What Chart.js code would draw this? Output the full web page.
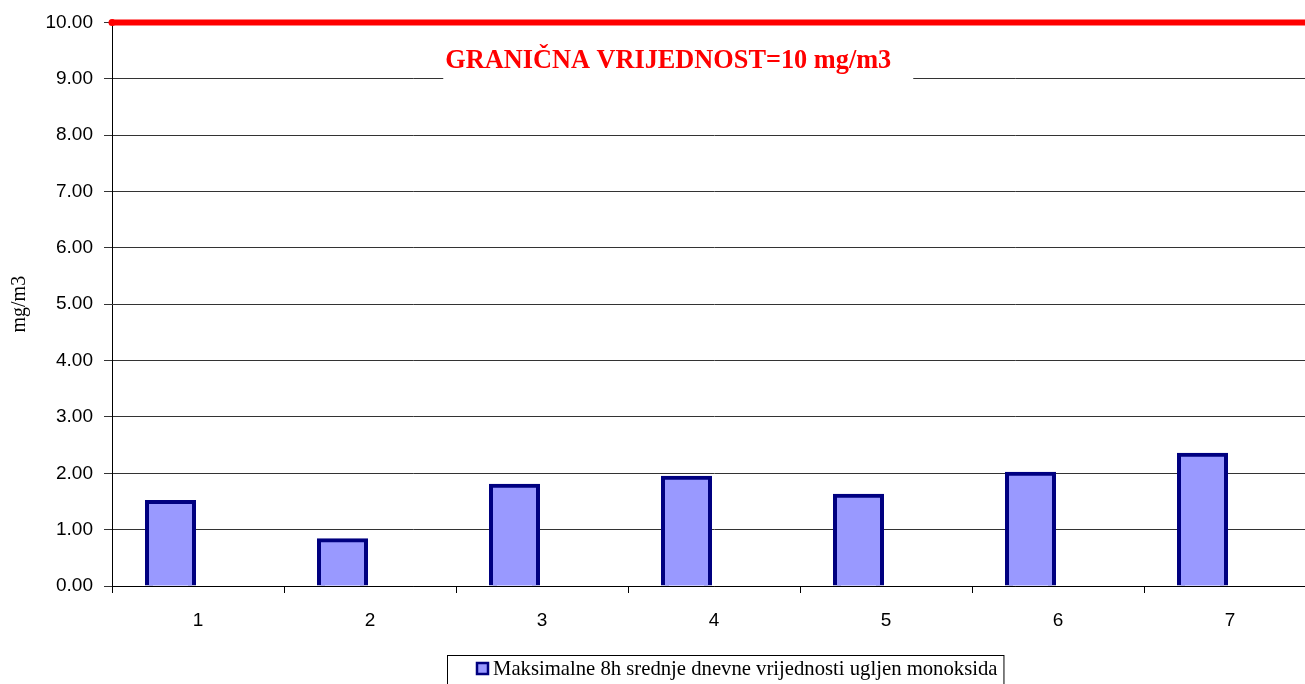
<!DOCTYPE html>
<html>
<head>
<meta charset="utf-8">
<script src="https://cdn.jsdelivr.net/npm/chart.js@4.4.1/dist/chart.umd.min.js"></script>
<style>
    html, body { margin: 0; padding: 0; background: #fff; overflow: hidden; }
    #wrap { width: 1320px; height: 684px; }
</style>
</head>
<body>
<div id="wrap"><canvas id="coChart" width="1320" height="684"></canvas></div>
<script>
const categories = ["1", "2", "3", "4", "5", "6", "7"];
const maxValues = [1.49, 0.81, 1.78, 1.92, 1.60, 1.99, 2.33];
const limitValue = 10;
const yTickLabels = ["0.00", "1.00", "2.00", "3.00", "4.00", "5.00", "6.00", "7.00", "8.00", "9.00", "10.00"];
const seriesLabel = "Maksimalne 8h srednje dnevne vrijednosti ugljen monoksida";
const limitLabel = "GRANIČNA VRIJEDNOST=10 mg/m3";
const yTitle = "mg/m3";

const FILL = "#9999ff";
const EDGE = "#000080";

/* red note with white box over the 9.00 grid line */
const limitNote = {
    id: "limitNote",
    afterDatasetsDraw(chart) {
        const { ctx, scales } = chart;
        const x = scales.xl.getPixelForValue(0.462);
        const y = scales.y.getPixelForValue(9.19);
        ctx.save();
        ctx.font = 'bold 26.3px "Liberation Serif"';
        const w = ctx.measureText(limitLabel).width;
        ctx.fillStyle = "#fff";
        ctx.fillRect(x - w / 2 - 2, y - 24, w + 24, 36);
        ctx.fillStyle = "#ff0000";
        ctx.textAlign = "center";
        ctx.textBaseline = "alphabetic";
        ctx.fillText(limitLabel, x, y);
        ctx.restore();
    }
};

/* boxed legend like the spreadsheet one */
const boxLegend = {
    id: "boxLegend",
    afterDraw(chart) {
        const { ctx, chartArea } = chart;
        const left = chartArea.left + 335;
        const top = 655;
        ctx.save();
        ctx.font = '20.7px "Liberation Serif"';
        const tw = ctx.measureText(seriesLabel).width;
        const width = 29 + 17 + tw + 6;
        ctx.fillStyle = "#fff";
        ctx.fillRect(left, top, width, 40);
        ctx.strokeStyle = "#000";
        ctx.lineWidth = 1;
        ctx.strokeRect(left + 0.5, top + 0.5, width, 40);
        ctx.fillStyle = FILL;
        ctx.fillRect(left + 29, top + 7, 13, 13);
        ctx.strokeStyle = EDGE;
        ctx.lineWidth = 2.5;
        ctx.strokeRect(left + 30, top + 8, 11, 11);
        ctx.fillStyle = "#000";
        ctx.textBaseline = "alphabetic";
        ctx.fillText(seriesLabel, left + 46, top + 20);
        ctx.restore();
    }
};

new Chart(document.getElementById("coChart"), {
    data: {
        labels: categories,
        datasets: [
            {
                type: "bar",
                label: seriesLabel,
                data: maxValues,
                backgroundColor: FILL,
                borderColor: EDGE,
                borderWidth: 4,
                inflateAmount: 2,
                barThickness: 55,
                maxBarThickness: 47,
                order: 2
            },
            {
                // empty second slot, keeps the bars left of the category centre
                type: "bar",
                label: "",
                data: categories.map(() => null),
                barThickness: 55,
                maxBarThickness: 47
            },
            {
                type: "line",
                label: limitLabel,
                xAxisID: "xl",
                data: [{ x: 0, y: limitValue }, { x: 1, y: limitValue }],
                borderColor: "#ff0000",
                backgroundColor: "#ff0000",
                borderWidth: 6,
                pointRadius: [3.5, 0],
                pointBorderWidth: 0,
                clip: false,
                order: 0
            }
        ]
    },
    options: {
        responsive: false,
        animation: false,
        layout: { padding: { top: 22, right: 2, left: 0, bottom: 0 } },
        plugins: {
            legend: { display: false },
            tooltip: { enabled: false }
        },
        scales: {
            x: {
                type: "category",
                offset: true,
                grid: {
                    offset: true,
                    drawOnChartArea: false,
                    drawTicks: true,
                    tickLength: 7,
                    color: "#000"
                },
                border: { display: true, color: "#000", width: 1 },
                ticks: {
                    color: "#000",
                    padding: 16,
                    font: { family: '"Liberation Sans"', size: 19 }
                },
                afterFit(scale) { scale.height = 98; }
            },
            xl: {
                type: "linear",
                display: false,
                min: 0,
                max: 1
            },
            y: {
                min: 0,
                max: 10,
                ticks: {
                    stepSize: 1,
                    color: "#000",
                    padding: 11,
                    font: { family: '"Liberation Sans"', size: 19 },
                    callback: (v, i) => yTickLabels[i]
                },
                grid: {
                    color: "#333",
                    lineWidth: 1,
                    tickLength: 8,
                    drawTicks: true
                },
                border: { display: true, color: "#000", width: 1 },
                title: {
                    display: true,
                    text: yTitle,
                    color: "#000",
                    padding: { top: 8, bottom: 0 },
                    font: { family: '"Liberation Serif"', size: 20 }
                },
                afterFit(scale) { scale.width = 112; }
            }
        }
    },
    plugins: [limitNote, boxLegend]
});
</script>
</body>
</html>
